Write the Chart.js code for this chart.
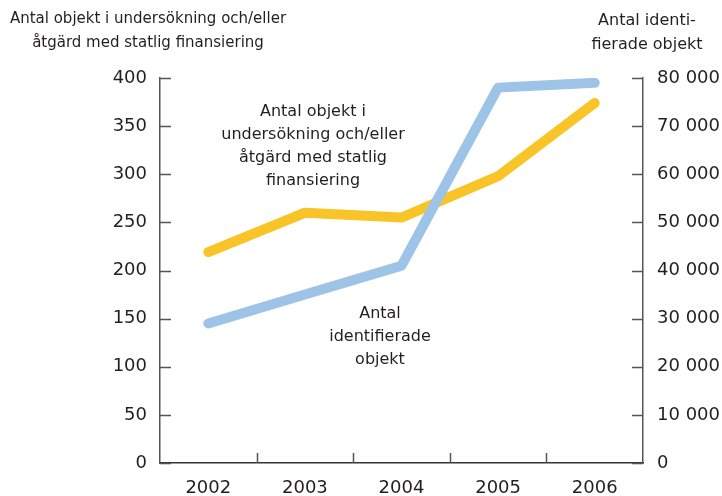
<!DOCTYPE html>
<html>
<head>
<meta charset="utf-8">
<script src="https://cdn.jsdelivr.net/npm/chart.js"></script>
<style>
  html, body { margin: 0; padding: 0; background: #fff; }
  #wrap { width: 722px; height: 496px; }
</style>
</head>
<body>
<div id="wrap"><canvas id="myChart" width="722" height="496"></canvas></div>
<script>
// data
const years = ["2002", "2003", "2004", "2005", "2006"];
const objektFinansiering = [219, 260, 255, 298, 374];        // left axis
const identifieradeObjekt = [29000, 35000, 41000, 78000, 79000]; // right axis
const leftTicks = [0, 50, 100, 150, 200, 250, 300, 350, 400];
const rightTicks = [0, 10000, 20000, 30000, 40000, 50000, 60000, 70000, 80000];

const FONT = "'DejaVu Sans', sans-serif";
const TEXT = "#231f20";
const AXIS = "#555";

function fmt(v) {
  return String(v).replace(/\B(?=(\d{3})+(?!\d))/g, " ");
}

// small inward tick marks + the free text labels
const decorations = {
  id: "decorations",
  afterDraw(chart) {
    const ctx = chart.ctx;
    const area = chart.chartArea;
    const x = chart.scales.x, y = chart.scales.y, y1 = chart.scales.y1;
    ctx.save();
    ctx.strokeStyle = AXIS;
    ctx.lineWidth = 1.5;
    ctx.beginPath();
    leftTicks.forEach(v => {
      const py = Math.round(y.getPixelForValue(v)) + 0.5;
      ctx.moveTo(area.left, py); ctx.lineTo(area.left + 11, py);
    });
    rightTicks.forEach(v => {
      const py = Math.round(y1.getPixelForValue(v)) + 0.5;
      ctx.moveTo(area.right - 11, py); ctx.lineTo(area.right, py);
    });
    for (let i = 1; i < years.length; i++) {
      const px = Math.round((x.getPixelForValue(i - 1) + x.getPixelForValue(i)) / 2) + 0.5;
      ctx.moveTo(px, area.bottom); ctx.lineTo(px, area.bottom - 10);
    }
    ctx.stroke();

    ctx.fillStyle = TEXT;
    ctx.textAlign = "center";
    ctx.textBaseline = "middle";
    ctx.font = "15px " + FONT;
    ctx.fillText("Antal objekt i undersökning och/eller", 148, 19);
    ctx.fillText("åtgärd med statlig finansiering", 148, 43);
    ctx.font = "16px " + FONT;
    ctx.fillText("Antal identi-", 647, 21);
    ctx.fillText("fierade objekt", 647, 45);

    ["Antal objekt i", "undersökning och/eller", "åtgärd med statlig", "finansiering"]
      .forEach((t, i) => ctx.fillText(t, 313, 112 + i * 23));
    ["Antal", "identifierade", "objekt"]
      .forEach((t, i) => ctx.fillText(t, 380, 314 + i * 23));
    ctx.restore();
  }
};

new Chart(document.getElementById("myChart"), {
  type: "line",
  data: {
    labels: years,
    datasets: [
      { label: "Antal identifierade objekt", data: identifieradeObjekt, yAxisID: "y1",
        borderColor: "#9dc3e6", borderWidth: 10, borderCapStyle: "round", borderJoinStyle: "round",
        pointRadius: 0, tension: 0, order: 0 },
      { label: "Antal objekt i undersökning", data: objektFinansiering, yAxisID: "y",
        borderColor: "#f9c427", borderWidth: 10, borderCapStyle: "round", borderJoinStyle: "round",
        pointRadius: 0, tension: 0, order: 1 }
    ]
  },
  options: {
    responsive: false,
    animation: false,
    layout: { padding: { top: 78, left: 0, right: 0, bottom: 0 } },
    plugins: { legend: { display: false }, tooltip: { enabled: false } },
    scales: {
      x: {
        offset: true,
        grid: { display: false, drawTicks: false },
        border: { display: true, color: "#333", width: 1.5 },
        ticks: { color: TEXT, font: { family: FONT, size: 18 }, padding: 15, maxRotation: 0 },
        afterFit(s) { s.height = 33; }
      },
      y: {
        position: "left",
        min: 0, max: 400,
        afterBuildTicks(s) { s.ticks = leftTicks.map(v => ({ value: v })); },
        grid: { display: false, drawTicks: false },
        border: { display: true, color: AXIS, width: 1.5 },
        ticks: { color: TEXT, font: { family: FONT, size: 18 }, padding: 13 },
        afterFit(s) { s.width = 160; }
      },
      y1: {
        position: "right",
        min: 0, max: 80000,
        afterBuildTicks(s) { s.ticks = rightTicks.map(v => ({ value: v })); },
        grid: { display: false, drawTicks: false },
        border: { display: true, color: AXIS, width: 1.5 },
        ticks: { color: TEXT, font: { family: FONT, size: 18 }, padding: 14, callback: v => fmt(v) },
        afterFit(s) { s.width = 79; }
      }
    }
  },
  plugins: [decorations]
});
</script>
</body>
</html>
